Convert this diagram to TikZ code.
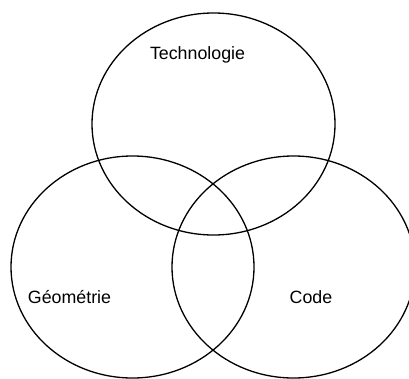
\documentclass[tikz,border=0pt]{standalone}
\usepackage{fontspec}
\setmainfont{Liberation Sans}

\begin{document}
\begin{tikzpicture}[x=1pt,y=-1pt,line width=1.3pt,
	label/.style={anchor=base,inner sep=0pt,font=\fontsize{17.8}{20}\selectfont}]
	\useasboundingbox (0,0) rectangle (409,378);
	\begin{scope}
	\clip (0,0) rectangle (409,378);
	\draw (213.5,124) ellipse [x radius=121.5,y radius=111];
	\draw (132.5,267) ellipse [x radius=121.5,y radius=111];
	\draw (293.5,267) ellipse [x radius=121.5,y radius=111];
	\end{scope}
	\node[label] (techno) at (197.5,59) {Technologie};
	\node[label] (geo) at (69.5,303) {Géométrie};
	\node[label] (code) at (311,303) {Code};
\end{tikzpicture}
\end{document}
